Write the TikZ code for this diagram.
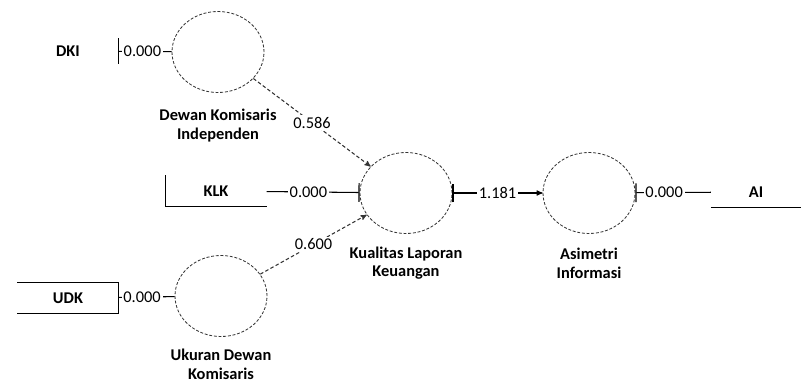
\documentclass[tikz,border=0pt]{standalone}
\usepackage{fontspec}
\setmainfont{Carlito}
\usetikzlibrary{arrows,arrows.meta,shapes.geometric}
\newcommand\figfont{\fontsize{14}{16}\selectfont}

\begin{document}
\begin{tikzpicture}[x=0.03cm,y=-0.03cm,>=stealth',node distance=2.1cm,
					line width=0.9pt,
					lv node/.style={ellipse,draw=black!80,line width=0.7pt,dash pattern=on 2.5pt off 1.5pt,
						minimum width=2.76cm,minimum height=2.43cm},
					mv node/.style={minimum width=3cm,minimum height=0.9cm,inner sep=0pt,font=\figfont\bfseries},
					name node/.style={align=center,font=\figfont\bfseries},
					box line/.style={line width=1.3pt},
					bar/.tip={Bar[width=16pt,line width=1pt]}]
	\useasboundingbox (0,0) rectangle (801,387);

	% latent variables
	\node[lv node] (dkic) at (218,52) {};
	\node[lv node] (klkc) at (406,193) {};
	\node[lv node] (aic) [right of=klkc,node distance=5.49cm] {};
	\node[lv node] (udkc) at (221,296) {};

	\node[name node] (dkiname) [below of=dkic,node distance=2.2cm] {Dewan Komisaris\\Independen};
	\node[name node] (klkname) [below of=klkc] {Kualitas Laporan\\Keuangan};
	\node[name node] (ainame) [below of=aic] {Asimetri\\Informasi};
	\node[name node] (udkname) [below of=udkc,node distance=2.05cm] {Ukuran Dewan\\Komisaris};

	% indicators
	\node[mv node,minimum height=0.72cm] (dki) at (68,51) {DKI};
	\node[mv node] (klk) at (216,191) {KLK};
	\node[mv node] (udk) at (68,298) {UDK};
	\node[mv node,minimum width=2.67cm] (ai) at (756,192) {AI};

	\draw[box line] (dki.north east) -- (dki.south east);
	\draw[box line] (klk.north west) -- (klk.south west) -- (klk.south east);
	\draw[box line] (udk.north west) -- (udk.north east) -- (udk.south east) -- (udk.south west);
	\draw[box line] (ai.south west) -- (ai.south east);

	\path[every node/.style={fill=white,inner sep=1.5pt,font=\figfont}]
	(dki) edge node[pos=0.45] {0.000} (dkic)
	(klk) edge[-bar] node[pos=0.45] {0.000} (klkc)
	(udk) edge node[pos=0.42] {0.000} (udkc)
	(aic) edge[bar-] node[pos=0.38] {0.000} (ai)
	(dkic) edge[->,densely dashed,draw=black!80] node {0.586} (klkc)
	(udkc) edge[->,densely dashed,draw=black!80] node {0.600} (klkc)
	(klkc) edge[bar->] node {1.181} (aic);
\end{tikzpicture}
\end{document}
